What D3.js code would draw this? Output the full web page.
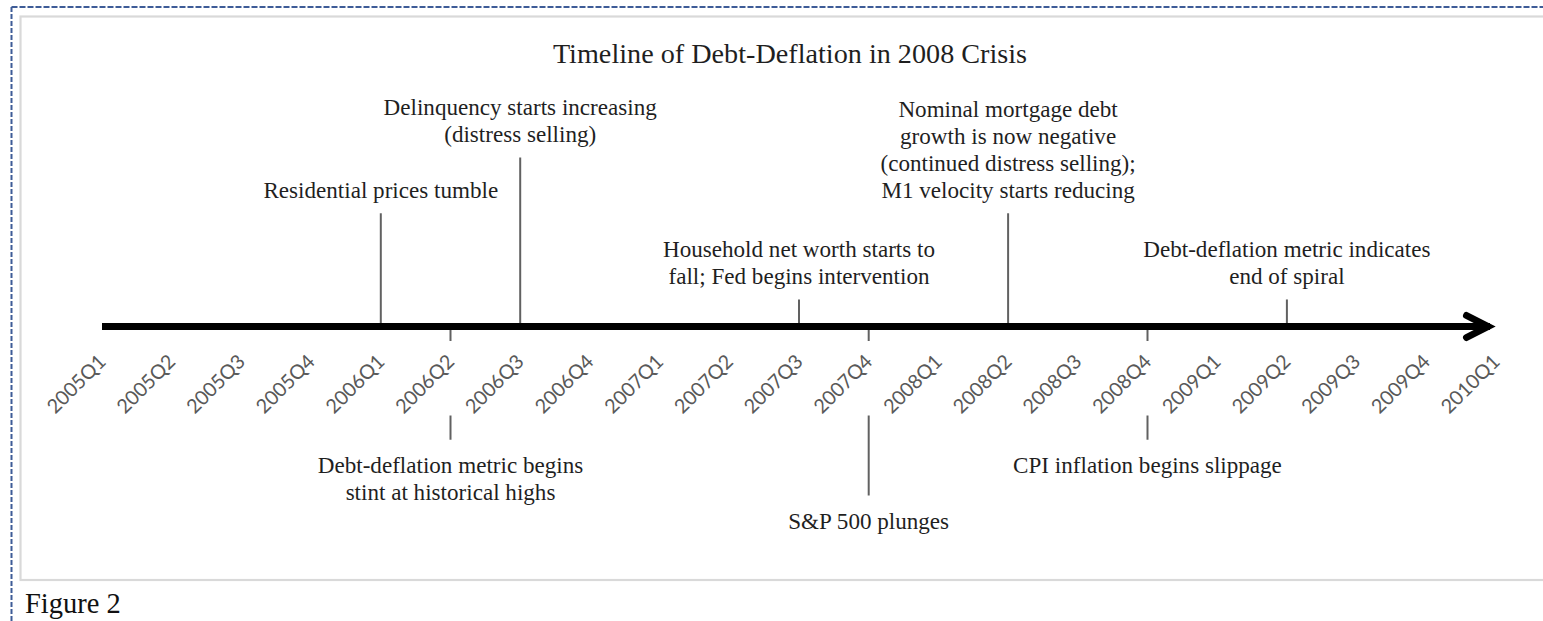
<!DOCTYPE html>
<html>
<head>
<meta charset="utf-8">
<script src="https://cdn.jsdelivr.net/npm/d3@7"></script>
<style>
  html, body { margin: 0; padding: 0; background: #ffffff; }
  svg { display: block; }
</style>
</head>
<body>
<svg id="chart" width="1543" height="621"></svg>
<script>
// ---------- data ----------
const quarters = [
  "2005Q1","2005Q2","2005Q3","2005Q4",
  "2006Q1","2006Q2","2006Q3","2006Q4",
  "2007Q1","2007Q2","2007Q3","2007Q4",
  "2008Q1","2008Q2","2008Q3","2008Q4",
  "2009Q1","2009Q2","2009Q3","2009Q4",
  "2010Q1"
];
const eventQuarters = ["2006Q1","2006Q3","2007Q3","2008Q2","2009Q2","2006Q2","2007Q4","2008Q4"];
// stem level: positive = above the timeline, negative = below
const eventLevels = [0.67, 1.0, 0.16, 0.67, 0.16, -0.67, -1.0, -0.67];
const eventLabels = [
  ["Residential prices tumble"],
  ["Delinquency starts increasing", "(distress selling)"],
  ["Household net worth starts to", "fall; Fed begins intervention"],
  ["Nominal mortgage debt", "growth is now negative", "(continued distress selling);", "M1 velocity starts reducing"],
  ["Debt-deflation metric indicates", "end of spiral"],
  ["Debt-deflation metric begins", "stint at historical highs"],
  ["S&P 500 plunges"],
  ["CPI inflation begins slippage"]
];
const titleText = "Timeline of Debt-Deflation in 2008 Crisis";
const captionText = "Figure 2";

// ---------- layout ----------
const W = 1543, H = 621;
const svg = d3.select("#chart");

const x = d3.scalePoint().domain(quarters).range([102, 1496]);
const y = d3.scaleLinear().domain([0, 1]).range([326.5, 157.5]);
const axisY = y(0);

const serif = "'Liberation Serif', 'Times New Roman', serif";
const labelColor = "#1f1f1f";
const stemColor = "#616161";
const lineGap = 26.8;

// outer dashed frame (top + left)
svg.append("line").attr("x1", 11.5).attr("y1", 7).attr("x2", W).attr("y2", 7)
  .attr("stroke", "#3e5c97").attr("stroke-width", 2).attr("stroke-dasharray", "6,2");
svg.append("line").attr("x1", 11.5).attr("y1", 7).attr("x2", 11.5).attr("y2", H)
  .attr("stroke", "#3e5c97").attr("stroke-width", 2).attr("stroke-dasharray", "5,2");

// chart area border
svg.append("rect").attr("x", 20.5).attr("y", 16.5).attr("width", W + 20).attr("height", 563.5)
  .attr("fill", "#ffffff").attr("stroke", "#d9d9d9").attr("stroke-width", 2.2);

// title
svg.append("text").attr("x", 790).attr("y", 63)
  .attr("text-anchor", "middle")
  .style("font-family", serif).style("font-size", "28.2px").attr("fill", labelColor)
  .text(titleText);

// caption
svg.append("text").attr("x", 25).attr("y", 613)
  .style("font-family", serif).style("font-size", "28.5px").attr("fill", "#111")
  .text(captionText);

const events = eventQuarters.map((q, i) => ({ q, level: eventLevels[i], lines: eventLabels[i] }));

// stems
const labelBandTop = axisY + 14.5, labelBandBottom = axisY + 89;
const stems = svg.append("g");
events.forEach(e => {
  const ex = x(e.q);
  if (e.level > 0) {
    stems.append("line").attr("x1", ex).attr("x2", ex)
      .attr("y1", axisY).attr("y2", y(e.level))
      .attr("stroke", stemColor).attr("stroke-width", 2);
  } else {
    stems.append("line").attr("x1", ex).attr("x2", ex)
      .attr("y1", axisY).attr("y2", labelBandTop)
      .attr("stroke", stemColor).attr("stroke-width", 2);
    stems.append("line").attr("x1", ex).attr("x2", ex)
      .attr("y1", labelBandBottom).attr("y2", y(e.level))
      .attr("stroke", stemColor).attr("stroke-width", 2);
  }
});

// event labels
const labels = svg.append("g");
events.forEach(e => {
  const ex = x(e.q);
  const n = e.lines.length;
  let firstBaseline;
  if (e.level > 0) {
    firstBaseline = y(e.level) - 15.5 - (n - 1) * lineGap;
  } else {
    firstBaseline = y(e.level) + 33;
  }
  const t = labels.append("text")
    .attr("text-anchor", "middle")
    .style("font-family", serif).style("font-size", "23.1px").attr("fill", labelColor);
  e.lines.forEach((ln, i) => {
    t.append("tspan").attr("x", ex).attr("y", firstBaseline + i * lineGap).text(ln);
  });
});

// timeline axis
const x0 = x.range()[0], x1 = x.range()[1];
svg.append("line").attr("x1", x0).attr("x2", x1 - 6)
  .attr("y1", axisY).attr("y2", axisY)
  .attr("stroke", "#000").attr("stroke-width", 7);
svg.append("path")
  .attr("d", `M${x1 - 29.5},${axisY - 11} L${x1 - 8},${axisY} L${x1 - 29.5},${axisY + 11}`)
  .attr("fill", "none").attr("stroke", "#000").attr("stroke-width", 7)
  .attr("stroke-linecap", "round").attr("stroke-linejoin", "miter");

// quarter tick labels
svg.append("g").selectAll("text").data(quarters).join("text")
  .attr("transform", d => `translate(${x(d) + 5},${axisY + 36.5}) rotate(-45)`)
  .attr("text-anchor", "end")
  .style("font-family", "Lato, 'Open Sans', sans-serif").style("font-size", "19.8px")
  .attr("fill", "#595959")
  .text(d => d);
</script>
</body>
</html>
